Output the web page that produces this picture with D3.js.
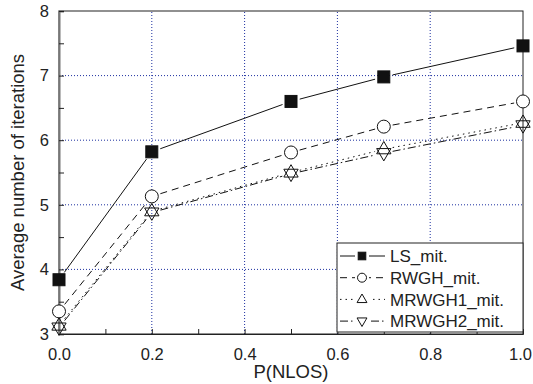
<!DOCTYPE html>
<html>
<head>
<meta charset="utf-8">
<script src="https://cdn.jsdelivr.net/npm/d3@7"></script>
<style>
body{margin:0;background:#fff;}
text{font-family:"Liberation Sans",Arial,sans-serif;}
</style>
</head>
<body>
<div class="chart"></div>
<script>
var width=533,
    height=384,
    margin={top:11,right:10,bottom:50,left:59};

// data
var pNlos=[0.0,0.2,0.5,0.7,1.0];
var lsMit=[3.84,5.82,6.6,6.98,7.46];
var rwghMit=[3.35,5.13,5.81,6.21,6.6];
var mrwgh1Mit=[3.13,4.9,5.5,5.86,6.27];
var mrwgh2Mit=[3.1,4.88,5.48,5.8,6.23];
var seriesNames=['LS_mit.','RWGH_mit.','MRWGH1_mit.','MRWGH2_mit.'];
var xTicks=[0.0,0.2,0.4,0.6,0.8,1.0];
var yTicks=[3,4,5,6,7,8];

var series=[
    {name:seriesNames[0],values:lsMit,marker:'square',dash:null},
    {name:seriesNames[1],values:rwghMit,marker:'circle',dash:'7,5'},
    {name:seriesNames[2],values:mrwgh1Mit,marker:'up',dash:'1.5,4'},
    {name:seriesNames[3],values:mrwgh2Mit,marker:'down',dash:'8,3,1.5,3'}
];

var svg=d3.select('.chart')
    .append('svg')
        .attr('width',width)
        .attr('height',height);

var x=d3.scaleLinear().domain([0,1]).range([margin.left,width-margin.right]);
var y=d3.scaleLinear().domain([3,8]).range([height-margin.bottom,margin.top]);

// grid
svg.append('g').selectAll('line')
    .data(xTicks.filter(d=>d>0&&d<1))
    .enter().append('line')
    .attr('x1',d=>x(d)).attr('x2',d=>x(d))
    .attr('y1',y(3)).attr('y2',y(8))
    .attr('stroke','#1c2fa0').attr('stroke-width',1)
    .attr('stroke-dasharray','1,2');
svg.append('g').selectAll('line')
    .data(yTicks.filter(d=>d>3&&d<8))
    .enter().append('line')
    .attr('x1',x(0)).attr('x2',x(1))
    .attr('y1',d=>y(d)).attr('y2',d=>y(d))
    .attr('stroke','#1c2fa0').attr('stroke-width',1)
    .attr('stroke-dasharray','1,2');

// frame
svg.append('rect')
    .attr('x',x(0)).attr('y',y(8))
    .attr('width',x(1)-x(0)).attr('height',y(3)-y(8))
    .attr('fill','none').attr('stroke','#222').attr('stroke-width',1);

// axes, ticks inward
var xAxis=d3.axisBottom(x).tickValues(d3.range(0,1.01,0.1)).tickSize(-5)
    .tickFormat(d=>{var r=Math.round(d*10);return r%2===0?d3.format('.1f')(d):'';});
svg.append('g')
    .attr('transform',`translate(0,${y(3)})`)
    .call(xAxis)
    .call(g=>g.select('.domain').attr('stroke','#222'))
    .call(g=>g.selectAll('.tick line').attr('stroke','#222'))
    .call(g=>g.selectAll('.tick text').attr('y',26).attr('dy',null).attr('font-size',16.5).attr('fill','#222')
        .attr('font-family','"Liberation Sans",Arial,sans-serif')
        .attr('x',d=>d>0.95?-3:0));

var yAxis=d3.axisLeft(y).tickValues(d3.range(3,8.01,0.5)).tickSize(-5)
    .tickFormat(d=>Number.isInteger(d)?d:'');
svg.append('g')
    .attr('transform',`translate(${x(0)},0)`)
    .call(yAxis)
    .call(g=>g.select('.domain').attr('stroke','#777').attr('stroke-width',2))
    .call(g=>g.selectAll('.tick line').attr('stroke','#222'))
    .call(g=>g.selectAll('.tick text').attr('x',-10).attr('font-size',16.5).attr('fill','#222')
        .attr('font-family','"Liberation Sans",Arial,sans-serif'));

// axis titles
svg.append('text')
    .attr('x',(x(0)+x(1))/2+0).attr('y',378)
    .attr('text-anchor','middle').attr('font-size',18.5).attr('fill','#222')
    .text('P(NLOS)');
svg.append('text')
    .attr('transform',`translate(24,${(y(3)+y(8))/2}) rotate(-90)`)
    .attr('text-anchor','middle').attr('font-size',18.5).attr('fill','#222')
    .text('Average number of iterations');

// markers
function drawMarker(g,type,cx,cy,s){
    if(type==='square'){
        g.append('rect').attr('x',cx-s).attr('y',cy-s).attr('width',2*s).attr('height',2*s)
            .attr('fill','#111').attr('stroke','#111');
    }else if(type==='circle'){
        g.append('circle').attr('cx',cx).attr('cy',cy).attr('r',s)
            .attr('fill','#fff').attr('stroke','#111').attr('stroke-width',1);
    }else if(type==='up'){
        g.append('path').attr('d',`M${cx},${cy-s*1.2}L${cx+s*1.1},${cy+s*0.7}L${cx-s*1.1},${cy+s*0.7}Z`)
            .attr('fill','none').attr('stroke','#111').attr('stroke-width',1);
    }else{
        g.append('path').attr('d',`M${cx},${cy+s*1.2}L${cx+s*1.1},${cy-s*0.7}L${cx-s*1.1},${cy-s*0.7}Z`)
            .attr('fill','none').attr('stroke','#111').attr('stroke-width',1);
    }
}

// lines with gaps around the markers
var gap=9;
series.forEach(s=>{
    var g=svg.append('g');
    for(var i=0;i<pNlos.length-1;i++){
        var x1=x(pNlos[i]),y1=y(s.values[i]),x2=x(pNlos[i+1]),y2=y(s.values[i+1]);
        var dx=x2-x1,dy=y2-y1,len=Math.sqrt(dx*dx+dy*dy);
        var ux=dx/len,uy=dy/len;
        g.append('line')
            .attr('x1',x1+ux*gap).attr('y1',y1+uy*gap)
            .attr('x2',x2-ux*gap).attr('y2',y2-uy*gap)
            .attr('stroke','#111').attr('stroke-width',1)
            .attr('stroke-dasharray',s.dash);
    }
});
series.forEach(s=>{
    var g=svg.append('g');
    var size=s.marker==='square'?6:6.5;
    pNlos.forEach((p,i)=>drawMarker(g,s.marker,x(p),y(s.values[i]),size));
});

// legend
var lg=svg.append('g');
var lx=337,ly=243,lw=x(1)-337,lh=89;
lg.append('rect').attr('x',lx).attr('y',ly).attr('width',lw).attr('height',lh)
    .attr('fill','#fff').attr('stroke','#222').attr('stroke-width',1);
series.forEach((s,i)=>{
    var cy=ly+13+i*21.7;
    lg.append('line').attr('x1',lx+3).attr('x2',lx+48).attr('y1',cy).attr('y2',cy)
        .attr('stroke','#111').attr('stroke-width',1)
        .attr('stroke-dasharray',s.dash?s.dash:null);
    lg.append('rect').attr('x',lx+18).attr('y',cy-6).attr('width',14).attr('height',12).attr('fill','#fff');
    drawMarker(lg,s.marker,lx+25,cy,s.marker==='square'?3.8:4.5);
    lg.append('text').attr('x',lx+53).attr('y',cy).attr('dy','0.37em')
        .attr('font-size',17).attr('fill','#222').text(s.name);
});
</script>
</body>
</html>
